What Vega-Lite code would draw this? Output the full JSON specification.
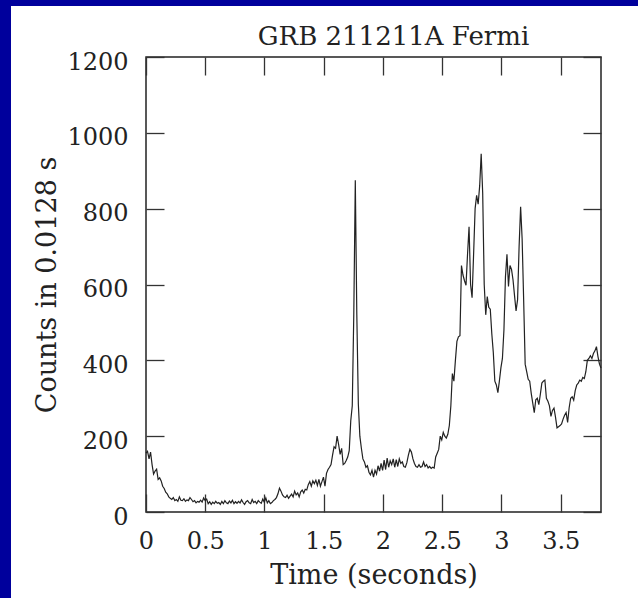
{
  "$schema": "https://vega.github.io/schema/vega-lite/v6.json",
  "background": "white",
  "padding": 0,
  "spacing": 0,
  "config": {
    "view": {"stroke": "#222", "strokeWidth": 1.5},
    "axis": {
      "labelFont": "DejaVu Serif", "titleFont": "DejaVu Serif",
      "labelFontSize": 24, "titleFontSize": 27, "titleFontWeight": "normal",
      "labelColor": "#222", "titleColor": "#222",
      "tickColor": "#333", "tickWidth": 1.3, "tickSize": 18, "offset": -18,
      "domain": false, "grid": false, "labelFlush": false, "labelOverlap": false,
      "minExtent": 0
    },
    "title": {"font": "DejaVu Serif", "fontSize": 26, "fontWeight": "normal", "color": "#222"}
  },
  "hconcat": [
    {
      "width": 11, "height": 598,
      "data": {"values": [{}]},
      "mark": {"type": "point", "opacity": 0, "size": 0},
      "view": {"fill": "#00009C", "stroke": null}
    },
    {
      "spacing": 16,
      "vconcat": [
        {
          "width": 627, "height": 6,
          "data": {"values": [{}]},
          "mark": {"type": "point", "opacity": 0, "size": 0},
          "view": {"fill": "#00009C", "stroke": null}
        },
        {
          "spacing": 21,
          "hconcat": [
            {
              "width": 1, "height": 1,
              "data": {"values": [{}]},
              "mark": {"type": "point", "opacity": 0, "size": 0},
              "view": {"stroke": null}
            },
            {
              "width": 455, "height": 455,
              "title": {"text": "GRB 211211A Fermi", "frame": "group", "baseline": "bottom", "offset": -25.5, "dx": 20, "anchor": "middle"},
              "data": {"values": [
{"t":0,"c":155},{"t":0.0128,"c":160},{"t":0.0256,"c":140},{"t":0.0384,"c":158},{"t":0.0512,"c":125},{"t":0.064,"c":100},{"t":0.0768,"c":108},{"t":0.0896,"c":113},{"t":0.1024,"c":86},{"t":0.1152,"c":90},
{"t":0.128,"c":82},{"t":0.1408,"c":68},{"t":0.1536,"c":62},{"t":0.1664,"c":52},{"t":0.1792,"c":48},{"t":0.192,"c":40},{"t":0.2048,"c":36},{"t":0.2176,"c":33},{"t":0.2304,"c":38},{"t":0.2432,"c":30},
{"t":0.256,"c":33},{"t":0.2688,"c":28},{"t":0.2816,"c":40},{"t":0.2944,"c":31},{"t":0.3072,"c":30},{"t":0.32,"c":35},{"t":0.3328,"c":28},{"t":0.3456,"c":32},{"t":0.3584,"c":30},{"t":0.3712,"c":38},
{"t":0.384,"c":33},{"t":0.3968,"c":27},{"t":0.4096,"c":30},{"t":0.4224,"c":24},{"t":0.4352,"c":28},{"t":0.448,"c":26},{"t":0.4608,"c":31},{"t":0.4736,"c":26},{"t":0.4864,"c":37},{"t":0.4992,"c":30},
{"t":0.512,"c":34},{"t":0.5248,"c":22},{"t":0.5376,"c":27},{"t":0.5504,"c":20},{"t":0.5632,"c":26},{"t":0.576,"c":22},{"t":0.5888,"c":28},{"t":0.6016,"c":23},{"t":0.6144,"c":25},{"t":0.6272,"c":20},
{"t":0.64,"c":28},{"t":0.6528,"c":22},{"t":0.6656,"c":30},{"t":0.6784,"c":24},{"t":0.6912,"c":22},{"t":0.704,"c":29},{"t":0.7168,"c":24},{"t":0.7296,"c":31},{"t":0.7424,"c":22},{"t":0.7552,"c":27},
{"t":0.768,"c":23},{"t":0.7808,"c":28},{"t":0.7936,"c":24},{"t":0.8064,"c":32},{"t":0.8192,"c":25},{"t":0.832,"c":20},{"t":0.8448,"c":27},{"t":0.8576,"c":30},{"t":0.8704,"c":24},{"t":0.8832,"c":22},
{"t":0.896,"c":33},{"t":0.9088,"c":25},{"t":0.9216,"c":28},{"t":0.9344,"c":22},{"t":0.9472,"c":30},{"t":0.96,"c":26},{"t":0.9728,"c":23},{"t":0.9856,"c":34},{"t":0.9984,"c":26},{"t":1.0112,"c":37},
{"t":1.024,"c":24},{"t":1.0368,"c":30},{"t":1.0496,"c":22},{"t":1.0624,"c":25},{"t":1.0752,"c":30},{"t":1.088,"c":33},{"t":1.1008,"c":38},{"t":1.1136,"c":48},{"t":1.1264,"c":63},{"t":1.1392,"c":55},
{"t":1.152,"c":45},{"t":1.1648,"c":40},{"t":1.1776,"c":38},{"t":1.1904,"c":44},{"t":1.2032,"c":36},{"t":1.216,"c":42},{"t":1.2288,"c":47},{"t":1.2416,"c":40},{"t":1.2544,"c":55},{"t":1.2672,"c":45},
{"t":1.28,"c":50},{"t":1.2928,"c":40},{"t":1.3056,"c":53},{"t":1.3184,"c":58},{"t":1.3312,"c":50},{"t":1.344,"c":60},{"t":1.3568,"c":58},{"t":1.3696,"c":72},{"t":1.3824,"c":80},{"t":1.3952,"c":68},
{"t":1.408,"c":82},{"t":1.4208,"c":75},{"t":1.4336,"c":84},{"t":1.4464,"c":70},{"t":1.4592,"c":86},{"t":1.472,"c":68},{"t":1.4848,"c":80},{"t":1.4976,"c":92},{"t":1.5104,"c":68},{"t":1.5232,"c":102},
{"t":1.536,"c":112},{"t":1.5488,"c":118},{"t":1.5616,"c":125},{"t":1.5744,"c":150},{"t":1.5872,"c":172},{"t":1.6,"c":168},{"t":1.6128,"c":200},{"t":1.6256,"c":178},{"t":1.6384,"c":152},{"t":1.6512,"c":168},
{"t":1.664,"c":125},{"t":1.6768,"c":128},{"t":1.6896,"c":136},{"t":1.7024,"c":145},{"t":1.7152,"c":162},{"t":1.728,"c":240},{"t":1.7408,"c":280},{"t":1.7536,"c":520},{"t":1.7664,"c":875},{"t":1.7792,"c":520},
{"t":1.792,"c":285},{"t":1.8048,"c":200},{"t":1.8176,"c":168},{"t":1.8304,"c":140},{"t":1.8432,"c":132},{"t":1.856,"c":118},{"t":1.8688,"c":122},{"t":1.8816,"c":105},{"t":1.8944,"c":98},{"t":1.9072,"c":110},
{"t":1.92,"c":92},{"t":1.9328,"c":110},{"t":1.9456,"c":100},{"t":1.9584,"c":122},{"t":1.9712,"c":108},{"t":1.984,"c":128},{"t":1.9968,"c":110},{"t":2.0096,"c":137},{"t":2.0224,"c":112},{"t":2.0352,"c":142},
{"t":2.048,"c":118},{"t":2.0608,"c":135},{"t":2.0736,"c":125},{"t":2.0864,"c":140},{"t":2.0992,"c":118},{"t":2.112,"c":138},{"t":2.1248,"c":120},{"t":2.1376,"c":140},{"t":2.1504,"c":128},{"t":2.1632,"c":132},
{"t":2.176,"c":120},{"t":2.1888,"c":118},{"t":2.2016,"c":130},{"t":2.2144,"c":150},{"t":2.2272,"c":165},{"t":2.24,"c":158},{"t":2.2528,"c":140},{"t":2.2656,"c":128},{"t":2.2784,"c":120},{"t":2.2912,"c":118},
{"t":2.304,"c":125},{"t":2.3168,"c":118},{"t":2.3296,"c":120},{"t":2.3424,"c":132},{"t":2.3552,"c":120},{"t":2.368,"c":125},{"t":2.3808,"c":116},{"t":2.3936,"c":120},{"t":2.4064,"c":115},{"t":2.4192,"c":118},
{"t":2.432,"c":116},{"t":2.4448,"c":145},{"t":2.4576,"c":155},{"t":2.4704,"c":165},{"t":2.4832,"c":200},{"t":2.496,"c":190},{"t":2.5088,"c":210},{"t":2.5216,"c":200},{"t":2.5344,"c":195},{"t":2.5472,"c":205},
{"t":2.56,"c":228},{"t":2.5728,"c":280},{"t":2.5856,"c":365},{"t":2.5984,"c":345},{"t":2.6112,"c":400},{"t":2.624,"c":450},{"t":2.6368,"c":462},{"t":2.6496,"c":465},{"t":2.6624,"c":650},{"t":2.6752,"c":625},
{"t":2.688,"c":610},{"t":2.7008,"c":598},{"t":2.7136,"c":680},{"t":2.7264,"c":752},{"t":2.7392,"c":600},{"t":2.752,"c":565},{"t":2.7648,"c":680},{"t":2.7776,"c":800},{"t":2.7904,"c":835},{"t":2.8032,"c":812},
{"t":2.816,"c":860},{"t":2.8288,"c":945},{"t":2.8416,"c":840},{"t":2.8544,"c":600},{"t":2.8672,"c":520},{"t":2.88,"c":568},{"t":2.8928,"c":540},{"t":2.9056,"c":535},{"t":2.9184,"c":470},{"t":2.9312,"c":420},
{"t":2.944,"c":345},{"t":2.9568,"c":335},{"t":2.9696,"c":315},{"t":2.9824,"c":345},{"t":2.9952,"c":380},{"t":3.008,"c":405},{"t":3.0208,"c":480},{"t":3.0336,"c":620},{"t":3.0464,"c":680},{"t":3.0592,"c":595},
{"t":3.072,"c":650},{"t":3.0848,"c":640},{"t":3.0976,"c":612},{"t":3.1104,"c":570},{"t":3.1232,"c":530},{"t":3.136,"c":560},{"t":3.1488,"c":700},{"t":3.1616,"c":805},{"t":3.1744,"c":720},{"t":3.1872,"c":560},
{"t":3.2,"c":390},{"t":3.2128,"c":370},{"t":3.2256,"c":350},{"t":3.2384,"c":345},{"t":3.2512,"c":313},{"t":3.264,"c":287},{"t":3.2768,"c":262},{"t":3.2896,"c":296},{"t":3.3024,"c":300},{"t":3.3152,"c":283},
{"t":3.328,"c":310},{"t":3.3408,"c":340},{"t":3.3536,"c":345},{"t":3.3664,"c":348},{"t":3.3792,"c":300},{"t":3.392,"c":292},{"t":3.4048,"c":280},{"t":3.4176,"c":252},{"t":3.4304,"c":268},{"t":3.4432,"c":274},
{"t":3.456,"c":250},{"t":3.4688,"c":222},{"t":3.4816,"c":225},{"t":3.4944,"c":228},{"t":3.5072,"c":232},{"t":3.52,"c":245},{"t":3.5328,"c":255},{"t":3.5456,"c":262},{"t":3.5584,"c":236},{"t":3.5712,"c":275},
{"t":3.584,"c":300},{"t":3.5968,"c":304},{"t":3.6096,"c":295},{"t":3.6224,"c":320},{"t":3.6352,"c":335},{"t":3.648,"c":340},{"t":3.6608,"c":348},{"t":3.6736,"c":345},{"t":3.6864,"c":355},{"t":3.6992,"c":352},
{"t":3.712,"c":370},{"t":3.7248,"c":400},{"t":3.7376,"c":405},{"t":3.7504,"c":412},{"t":3.7632,"c":405},{"t":3.776,"c":418},{"t":3.7888,"c":425},{"t":3.8016,"c":436},{"t":3.8144,"c":410},{"t":3.8272,"c":390},{"t":3.84,"c":380}
              ]},
              "layer": [
                {
                  "mark": {"type": "line", "color": "#222", "strokeWidth": 1.2},
                  "encoding": {
                    "x": {"field": "t", "type": "quantitative",
                          "scale": {"domain": [0, 3.84], "nice": false, "zero": false},
                          "axis": {"orient": "bottom", "values": [0, 0.5, 1, 1.5, 2, 2.5, 3, 3.5], "format": "~g",
                                   "title": "Time (seconds)", "labelPadding": 17.5, "titlePadding": 8.5, "minExtent": 0}},
                    "y": {"field": "c", "type": "quantitative",
                          "scale": {"domain": [0, 1200], "nice": false},
                          "axis": {"orient": "left", "values": [0, 200, 400, 600, 800, 1000, 1200], "format": "d",
                                   "title": "Counts in 0.0128 s", "labelPadding": 18, "titlePadding": 5,
                                   "labelBaseline": "middle", "labelOffset": 5, "minExtent": 0}}
                  }
                },
                {
                  "mark": {"type": "line", "opacity": 0},
                  "encoding": {
                    "x": {"field": "t", "type": "quantitative",
                          "axis": {"orient": "top", "values": [0, 0.5, 1, 1.5, 2, 2.5, 3, 3.5], "labels": false, "title": null, "minExtent": 0, "maxExtent": 0}},
                    "y": {"field": "c", "type": "quantitative",
                          "axis": {"orient": "right", "values": [0, 200, 400, 600, 800, 1000, 1200], "labels": false, "title": null, "minExtent": 0, "maxExtent": 0}}
                  }
                }
              ],
              "resolve": {"axis": {"x": "independent", "y": "independent"}}
            }
          ]
        }
      ]
    }
  ]
}
